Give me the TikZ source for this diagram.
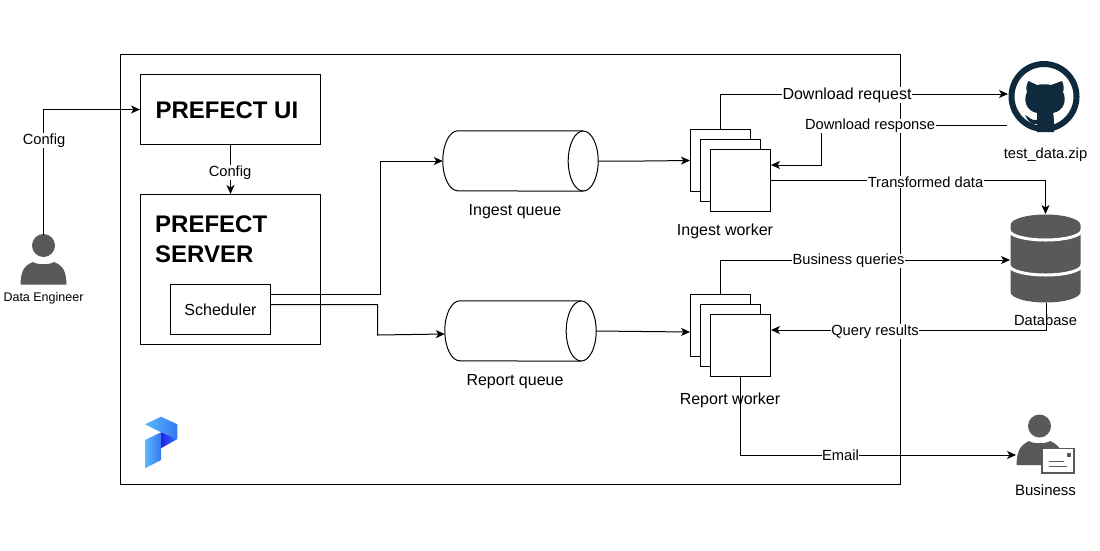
\documentclass[tikz,border=0pt]{standalone}
\usepackage{fontspec}
\setmainfont{Liberation Sans}
\usetikzlibrary{arrows.meta}

\definecolor{icongray}{HTML}{595959}
\definecolor{githubblue}{HTML}{0F2A3D}
\definecolor{logolight}{HTML}{5CBAF9}
\definecolor{logomid}{HTML}{3578F5}
\definecolor{logodark}{HTML}{1F22E8}

\tikzset{
    box/.style={draw=black, line width=1pt, fill=white, inner sep=0pt},
    worker/.style={box, minimum width=60pt, minimum height=62pt},
    queue/.style={inner sep=0pt, minimum width=155pt, minimum height=60pt},
    flow/.style={line width=1pt, -{Stealth[length=9pt,width=8pt,inset=2.5pt]}},
    edgelbl/.style={fill=white, inner sep=0.6pt, font=\fontsize{14.7}{17}\selectfont},
    caption/.style={font=\fontsize{16}{18}\selectfont},
    title/.style={font=\fontsize{24}{30}\selectfont\bfseries, align=left}
}

\begin{document}
\begin{tikzpicture}[x=1pt, y=-1pt]
    \useasboundingbox (0,0) rectangle (1100,550);

    \draw[line width=1pt] (120.5,54.5) rectangle (900.5,484.5);

    \node[box, minimum width=180pt, minimum height=70pt] (ui) at (230.5,109.5) {};
    \node[title, anchor=west] (uititle) at (152,110) {PREFECT UI};
    \node[box, minimum width=180pt, minimum height=150pt] (server) at (230.5,269.5) {};
    \node[title, anchor=north west, inner sep=0pt] (servertitle) at (155,216) {PREFECT\\SERVER};
    \node[box, minimum width=100pt, minimum height=50pt, caption] (scheduler) at (220.5,309.5) {Scheduler};

    \node[queue] (ingestq) at (520.5,161) {};
    \node[caption] (ingestqlbl) at (515,212) {Ingest queue};
    \node[queue, minimum width=151pt] (reportq) at (520.5,331) {};
    \node[caption] (reportqlbl) at (515,382) {Report queue};

    %cilindros
    \foreach \q in {ingestq,reportq}{
        \draw[line width=1pt] ([xshift=-15pt]\q.north east) -- ([xshift=15pt]\q.north west)
            arc[start angle=270, end angle=90, x radius=15, y radius=30] -- ([xshift=-15pt]\q.south east);
        \draw[line width=1pt] ([xshift=-15pt]\q.east) ellipse [x radius=15, y radius=30];
    }

    %pilas de workers
    \foreach \n/\d in {A/0,B/10,C/20}{
        \node[worker] (ingest\n) at (720.5+\d,160.5+\d) {};
        \node[worker] (report\n) at (720.5+\d,325.5+\d) {};
    }
    \node[caption] (ingestlbl) at (725,231) {Ingest worker};
    \node[caption] (reportlbl) at (730,400.5) {Report worker};

    %persona
    \fill[icongray] (43.5,245.5) circle (11.5);
    \fill[icongray] (20.5,284.5) .. controls (21,272) and (23,266) .. (33,262)
        .. controls (37,265) and (50,265) .. (54,262)
        .. controls (64,266) and (66,272) .. (66.5,284.5) -- cycle;
    \node[font=\fontsize{12.5}{14}\selectfont] (engineerlbl) at (43.5,298.5) {Data Engineer};
    \coordinate (engineer) at (43.5,235);

    %github
    \draw[githubblue, line width=6pt] (1044,96.5) circle (32.5);
    \fill[githubblue] (1028.5,81) -- (1037,85) .. controls (1041,84) and (1047,84) .. (1051,85)
        -- (1062,81) .. controls (1064,85) and (1064,89) .. (1063,92)
        .. controls (1067,100) and (1064,111) .. (1053,113)
        .. controls (1054,116) and (1054,122) .. (1054,132) -- (1037,132)
        -- (1037,124) .. controls (1031,125) and (1028,121) .. (1025,115)
        .. controls (1028,116) and (1031,121) .. (1037,120)
        -- (1037,113) .. controls (1026,111) and (1023,100) .. (1027,92)
        .. controls (1026,89) and (1026,85) .. (1028.5,81) -- cycle;
    \node[font=\fontsize{14.7}{17}\selectfont] (githublbl) at (1045.5,155) {test\_data.zip};
    \coordinate (githubin) at (1008,94);
    \coordinate (githubout) at (1007,125);

    %base de datos
    \fill[icongray] (1010.5,225) arc[start angle=180, end angle=360, x radius=35, y radius=10.5]
        -- (1080.5,292) arc[start angle=0, end angle=180, x radius=35, y radius=10.5] -- cycle;
    \foreach \y in {230,265}{
        \draw[white, line width=3pt] (1009,\y) arc[start angle=180, end angle=0, x radius=36.5, y radius=10];
    }
    \node[font=\fontsize{14.7}{17}\selectfont] (dblbl) at (1045.5,320.5) {Database};
    \coordinate (dbin) at (1045.5,214);
    \coordinate (dbleft) at (1010,260);
    \coordinate (dbout) at (1046,303);

    %persona con sobre
    \fill[icongray] (1039.5,426) circle (11.5);
    \fill[icongray] (1016.5,465) .. controls (1017,452) and (1019,446) .. (1029,441)
        .. controls (1033,444) and (1046,444) .. (1050,441)
        .. controls (1057,444) and (1060,448) .. (1062,452) -- (1062,465) -- cycle;
    \draw[icongray, fill=white, line width=1.5pt] (1042,448.5) rectangle (1074,473);
    \fill[icongray] (1067,453) rectangle (1071,457);
    \draw[icongray, line width=1pt] (1049,461.5) -- (1064,461.5) (1049,466.5) -- (1067,466.5);
    \node[font=\fontsize{15}{17}\selectfont] (businesslbl) at (1045.5,490.5) {Business};
    \coordinate (business) at (1016,455);

    %logo
    \shade[left color=logolight, right color=logomid] (145,424.3) -- (161,416.7) -- (177.3,424.3) -- (177.3,439) -- (161,432.3) -- cycle;
    \shade[left color=logodark, right color=logomid] (161,432.3) -- (177.3,439) -- (161,448.3) -- cycle;
    \shade[left color=logolight, right color=logomid] (145,440) -- (161,432.3) -- (161,460) -- (145,468.3) -- cycle;

    %conectores
    \draw[flow] (engineer) |- (ui.west);
    \draw[flow] (ui.south) -- (server.north);
    \draw[flow] ([yshift=15pt]scheduler.east) -- (380.5,294.5) |- (ingestq.west);
    \draw[flow] ([yshift=5pt]scheduler.east) -- (377.5,304.5) -- (377.5,335) -- ([yshift=-3pt]reportq.west);
    \draw[flow] (ingestq.east) -- (644,161) -- (ingestA.west);
    \draw[flow] (reportq.east) -- ([yshift=-6.5pt]reportA.west);
    \draw[flow] (ingestA.north) |- (githubin);
    \draw[flow] (githubout) -| (821,165) -- ([yshift=15.5pt]ingestC.east);
    \draw[flow] (ingestC.east) -| (dbin);
    \draw[flow] (reportA.north) |- (dbleft);
    \draw[flow] (dbout) |- ([yshift=15.5pt]reportC.east);
    \draw[flow] (reportC.south) |- (business);

    %etiquetas
    \node[edgelbl] (cfgA) at (44,140.5) {Config};
    \node[edgelbl] (cfgB) at (230,172.5) {Config};
    \node[edgelbl, font=\fontsize{16}{18}\selectfont] (dlreq) at (847,95) {Download request};
    \node[edgelbl] (dlresp) at (870,126) {Download response};
    \node[edgelbl] (transformed) at (925.5,182) {Transformed data};
    \node[edgelbl] (bizq) at (848.5,261) {Business queries};
    \node[edgelbl] (qres) at (875,331.5) {Query results};
    \node[edgelbl] (email) at (840.5,455) {Email};
\end{tikzpicture}
\end{document}
